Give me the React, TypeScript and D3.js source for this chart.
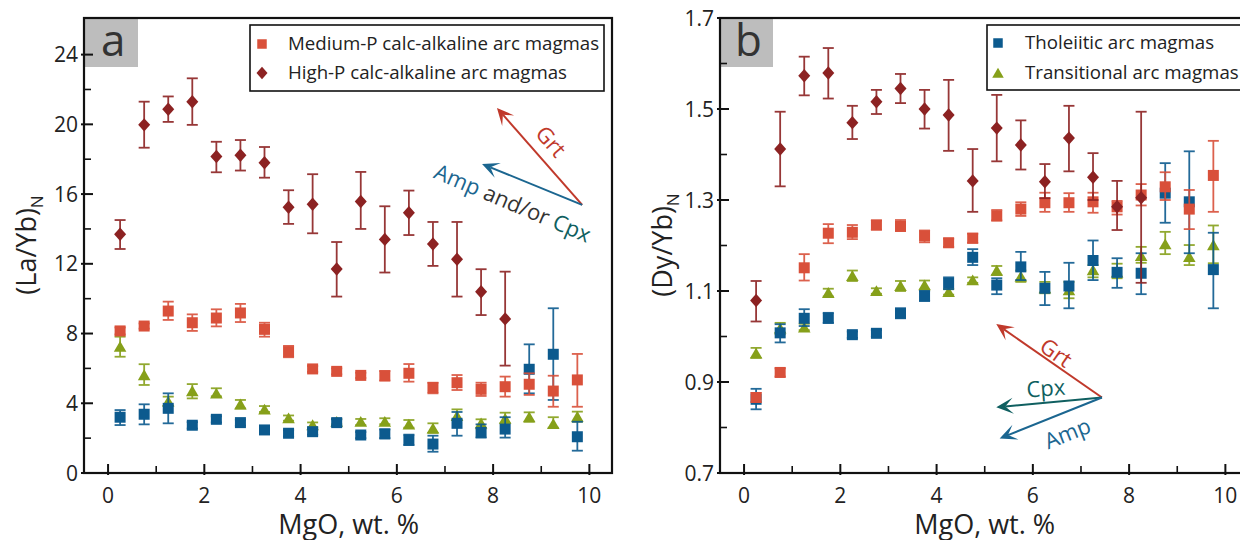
import React from "react";
import * as d3 from "d3";

// ---------- DATA ----------
const mgoBins = [0.25, 0.75, 1.25, 1.75, 2.25, 2.75, 3.25, 3.75, 4.25, 4.75, 5.25, 5.75, 6.25, 6.75, 7.25, 7.75, 8.25, 8.75, 9.25, 9.75];

// Panel a: (La/Yb)N
const aMedVal = [8.15, 8.43, 9.29, 8.62, 8.89, 9.18, 8.24, 6.96, 5.97, 5.83, 5.6, 5.58, 5.72, 4.9, 5.18, 4.8, 4.95, 5.09, 4.7, 5.34];
const aMedLo = [7.95, 8.28, 8.78, 8.15, 8.41, 8.66, 7.82, 6.64, 5.8, 5.66, 5.45, 5.3, 5.24, 4.57, 4.76, 4.42, 4.38, 4.48, 3.8, 3.8];
const aMedHi = [8.35, 8.58, 9.83, 9.1, 9.39, 9.7, 8.62, 7.29, 6.14, 6.0, 5.75, 5.85, 6.25, 5.18, 5.62, 5.18, 5.53, 5.72, 5.58, 6.83];

const aHighVal = [13.69, 19.97, 20.87, 21.3, 18.15, 18.23, 17.8, 15.24, 15.42, 11.7, 15.57, 13.4, 14.93, 13.14, 12.26, 10.4, 8.84];
const aHighLo = [12.85, 18.66, 20.14, 19.97, 17.25, 17.35, 16.94, 14.29, 13.75, 10.12, 14.0, 11.5, 13.65, 11.88, 10.12, 9.06, 6.16];
const aHighHi = [14.51, 21.3, 21.6, 22.64, 19.0, 19.1, 18.7, 16.22, 17.14, 13.25, 17.27, 15.3, 16.2, 14.4, 14.4, 11.69, 11.55];

const aTholVal = [3.2, 3.37, 3.71, 2.74, 3.08, 2.89, 2.47, 2.28, 2.37, 2.89, 2.18, 2.24, 1.89, 1.66, 2.85, 2.33, 2.52, 5.95, 6.81, 2.08];
const aTholLo = [2.75, 2.79, 2.85, 2.55, 2.9, 2.72, 2.3, 2.1, 2.2, 2.7, 2.0, 2.0, 1.6, 1.22, 2.14, 2.03, 2.03, 4.57, 4.19, 1.28];
const aTholHi = [3.61, 3.94, 4.57, 2.92, 3.25, 3.06, 2.64, 2.45, 2.55, 3.08, 2.35, 2.5, 2.2, 2.14, 3.5, 2.79, 3.2, 7.38, 9.45, 2.94];

const aTransVal = [7.25, 5.62, 4.1, 4.7, 4.57, 3.94, 3.65, 3.14, 2.75, 2.94, 2.94, 2.94, 2.79, 2.56, 3.27, 2.85, 3.12, 3.2, 2.81, 3.23];
const aTransLo = [6.67, 5.05, 3.85, 4.28, 4.4, 3.7, 3.5, 3.0, 2.62, 2.8, 2.75, 2.8, 2.6, 2.3, 3.04, 2.56, 2.85, 2.94, 2.6, 2.94];
const aTransHi = [7.82, 6.24, 4.38, 5.1, 4.86, 4.19, 3.84, 3.3, 2.9, 3.1, 3.1, 3.14, 3.04, 2.85, 3.65, 3.08, 3.46, 3.48, 3.2, 3.52];

// Panel b: (Dy/Yb)N
const bMedVal = [0.866, 0.921, 1.151, 1.227, 1.229, 1.245, 1.242, 1.221, 1.206, 1.216, 1.265, 1.28, 1.294, 1.294, 1.296, 1.285, 1.311, 1.329, 1.28, 1.354];
const bMedLo = [0.856, 0.912, 1.123, 1.205, 1.214, 1.235, 1.232, 1.207, 1.197, 1.206, 1.255, 1.265, 1.274, 1.274, 1.272, 1.268, 1.288, 1.3, 1.236, 1.274];
const bMedHi = [0.876, 0.93, 1.181, 1.247, 1.245, 1.255, 1.256, 1.233, 1.215, 1.226, 1.278, 1.295, 1.316, 1.315, 1.316, 1.298, 1.335, 1.361, 1.322, 1.43];

const bHighVal = [1.079, 1.412, 1.573, 1.579, 1.47, 1.516, 1.545, 1.5, 1.487, 1.342, 1.458, 1.421, 1.34, 1.436, 1.35, 1.285, 1.305];
const bHighLo = [1.033, 1.33, 1.53, 1.523, 1.434, 1.489, 1.513, 1.457, 1.408, 1.274, 1.385, 1.367, 1.304, 1.363, 1.3, 1.234, 1.118];
const bHighHi = [1.122, 1.494, 1.615, 1.634, 1.507, 1.542, 1.577, 1.542, 1.564, 1.412, 1.531, 1.475, 1.379, 1.507, 1.403, 1.342, 1.494];

const bTholVal = [0.862, 1.008, 1.04, 1.04, 1.004, 1.007, 1.051, 1.089, 1.117, 1.174, 1.113, 1.153, 1.106, 1.111, 1.167, 1.141, 1.139, 1.315, 1.296, 1.147];
const bTholLo = [0.84, 0.987, 1.023, 1.03, 0.997, 1.0, 1.04, 1.078, 1.104, 1.157, 1.093, 1.124, 1.069, 1.062, 1.124, 1.107, 1.093, 1.25, 1.183, 1.062];
const bTholHi = [0.885, 1.027, 1.06, 1.052, 1.011, 1.014, 1.062, 1.1, 1.13, 1.192, 1.128, 1.186, 1.142, 1.162, 1.211, 1.172, 1.183, 1.381, 1.407, 1.228];

const bTransVal = [0.963, 1.018, 1.02, 1.096, 1.133, 1.1, 1.111, 1.113, 1.098, 1.124, 1.145, 1.132, 1.106, 1.102, 1.146, 1.141, 1.177, 1.203, 1.175, 1.201];
const bTransLo = [0.953, 1.005, 1.014, 1.088, 1.122, 1.094, 1.1, 1.103, 1.092, 1.118, 1.135, 1.12, 1.095, 1.084, 1.13, 1.128, 1.162, 1.181, 1.157, 1.161];
const bTransHi = [0.975, 1.03, 1.028, 1.105, 1.145, 1.106, 1.122, 1.123, 1.104, 1.13, 1.155, 1.145, 1.12, 1.12, 1.157, 1.16, 1.197, 1.23, 1.201, 1.244];

const xTicks = [0, 2, 4, 6, 8, 10];
const xMinorTicks = [1, 3, 5, 7, 9];
const aYTicks = [0, 4, 8, 12, 16, 20, 24];
const aYMinor = [2, 6, 10, 14, 18, 22];
const bYTicks = [0.7, 0.9, 1.1, 1.3, 1.5, 1.7];
const bYMinor = [0.8, 1.0, 1.2, 1.4, 1.6];

const legendA = ["Medium-P calc-alkaline arc magmas", "High-P calc-alkaline arc magmas"];
const legendB = ["Tholeiitic arc magmas", "Transitional arc magmas"];

// ---------- STYLE ----------
const C_MED = "#d9503a";
const C_HIGH = "#8c2222";
const C_THOL = "#0c5a8e";
const C_TRANS = "#86a01a";
const C_GRT = "#c0392b";
const C_AMP = "#1b6690";
const C_CPX = "#0f5f60";
const FONT = "'Open Sans', 'Noto Sans', sans-serif";

type Shape = "square" | "diamond" | "triangle";

function markerPath(shape: Shape, cx: number, cy: number, s: number) {
  const h = s / 2;
  if (shape === "square") return `M${cx - h},${cy - h}h${s}v${s}h${-s}Z`;
  if (shape === "diamond") return `M${cx},${cy - h * 1.12}L${cx + h},${cy}L${cx},${cy + h * 1.12}L${cx - h},${cy}Z`;
  return `M${cx},${cy - h * 0.95}L${cx + h * 1.05},${cy + h * 0.85}L${cx - h * 1.05},${cy + h * 0.85}Z`;
}

function Series({ xs, val, lo, hi, x, y, color, shape, size }: any) {
  return (
    <g>
      {val.map((v: number, i: number) => {
        const px = x(xs[i]);
        const y0 = y(lo[i]);
        const y1 = y(hi[i]);
        const cw = 5.5;
        return (
          <g key={i}>
            <g stroke={color} strokeWidth={1.8} opacity={0.9}>
              <line x1={px} x2={px} y1={y0} y2={y1} />
              <line x1={px - cw} x2={px + cw} y1={y0} y2={y0} />
              <line x1={px - cw} x2={px + cw} y1={y1} y2={y1} />
            </g>
            <path d={markerPath(shape, px, y(v), size)} fill={color} />
          </g>
        );
      })}
    </g>
  );
}

function Arrow({ x1, y1, x2, y2, color }: any) {
  const dx = x2 - x1, dy = y2 - y1;
  const len = Math.hypot(dx, dy);
  const ux = dx / len, uy = dy / len;
  const nx = -uy, ny = ux;
  const L = 17, W = 8, notch = 9;
  const bx = x2 - ux * L, by = y2 - uy * L;
  const mx = x2 - ux * notch, my = y2 - uy * notch;
  const head = `M${x2},${y2}L${bx + nx * W},${by + ny * W}L${mx},${my}L${bx - nx * W},${by - ny * W}Z`;
  return (
    <g>
      <line x1={x1} y1={y1} x2={mx} y2={my} stroke={color} strokeWidth={2} />
      <path d={head} fill={color} />
    </g>
  );
}

function Axes({ x, y, yTicks, yMinor, yFmt, left, right, top, bottom }: any) {
  return (
    <g>
      {xTicks.map((t) => (
        <g key={"xt" + t}>
          <line x1={x(t)} x2={x(t)} y1={bottom + 2} y2={bottom - 9} stroke="#111" strokeWidth={2} />
          <text x={x(t)} y={503} textAnchor="middle" fontSize={21} fill="#222" fontFamily={FONT}>{t}</text>
        </g>
      ))}
      {xMinorTicks.map((t) => (
        <line key={"xm" + t} x1={x(t)} x2={x(t)} y1={bottom} y2={bottom - 7} stroke="#111" strokeWidth={1.6} />
      ))}
      {yTicks.map((t: number) => (
        <g key={"yt" + t}>
          <line x1={left - 3} x2={left + 9} y1={y(t)} y2={y(t)} stroke="#111" strokeWidth={2} />
          <text x={left - 6} y={y(t) + 7.5} textAnchor="end" fontSize={21} fill="#222" fontFamily={FONT}>{yFmt(t)}</text>
        </g>
      ))}
      {yMinor.map((t: number) => (
        <line key={"ym" + t} x1={left} x2={left + 7} y1={y(t)} y2={y(t)} stroke="#111" strokeWidth={1.6} />
      ))}
      <rect x={left} y={top} width={right - left} height={bottom - top} fill="none" stroke="#111" strokeWidth={2.2} />
    </g>
  );
}

function LegendMarker({ shape, cx, cy, color }: any) {
  const s = shape === "square" ? 9.5 : 11;
  return <path d={markerPath(shape, cx, cy, s)} fill={color} />;
}

export default function App() {
  const top = 18, bottom = 473;
  const aL = 84, aR = 612, bL = 720, bR = 1248;
  const xA = d3.scaleLinear().domain([-0.5, 10.47]).range([aL, aR]);
  const yA = d3.scaleLinear().domain([0, 26.1]).range([bottom, top]);
  const xB = d3.scaleLinear().domain([-0.5, 10.47]).range([bL, bR]);
  const yB = d3.scaleLinear().domain([0.7, 1.7]).range([bottom, top]);

  const xsHigh = mgoBins.slice(0, aHighVal.length);

  return (
    <svg width={1240} height={540} style={{ position: "absolute", left: 0, top: 0, background: "#fff" }} fontFamily={FONT}>
      <rect x={0} y={0} width={1240} height={540} fill="#fff" />

      {/* ---------------- Panel a ---------------- */}
      <g>
        <rect x={aL} y={top} width={54} height={49} fill="#bdbdbd" />
        <text x={101} y={56} fontSize={44} fill="#333">a</text>

        <Series xs={mgoBins} val={aTransVal} lo={aTransLo} hi={aTransHi} x={xA} y={yA} color={C_TRANS} shape="triangle" size={12} />
        <Series xs={mgoBins} val={aTholVal} lo={aTholLo} hi={aTholHi} x={xA} y={yA} color={C_THOL} shape="square" size={11} />
        <Series xs={mgoBins} val={aMedVal} lo={aMedLo} hi={aMedHi} x={xA} y={yA} color={C_MED} shape="square" size={11} />
        <Series xs={xsHigh} val={aHighVal} lo={aHighLo} hi={aHighHi} x={xA} y={yA} color={C_HIGH} shape="diamond" size={12} />

        <Arrow x1={xA(9.85)} y1={yA(15.38)} x2={xA(8.08)} y2={yA(20.94)} color={C_GRT} />
        <Arrow x1={xA(9.85)} y1={yA(15.38)} x2={xA(7.77)} y2={yA(17.73)} color={C_AMP} />
        <text transform={`translate(${xA(9.2)},${yA(19.02)}) rotate(48.8)`} textAnchor="middle" dy="0.35em" fontSize={22} fill={C_GRT}>Grt</text>
        <text transform={`translate(${xA(6.74)},${yA(16.95)}) rotate(23)`} fontSize={22} fill="#333">
          <tspan fill={C_AMP}>Amp</tspan>
          <tspan> and/or </tspan>
          <tspan fill={C_CPX}>Cpx</tspan>
        </text>

        <rect x={250} y={25} width={354} height={66} fill="#fff" stroke="#111" strokeWidth={1.6} />
        <LegendMarker shape="square" cx={262} cy={44} color={C_MED} />
        <LegendMarker shape="diamond" cx={262} cy={73} color={C_HIGH} />
        <text x={288} y={50} fontSize={18.7} fill="#222">{legendA[0]}</text>
        <text x={288} y={79} fontSize={18.7} fill="#222">{legendA[1]}</text>

        <Axes x={xA} y={yA} yTicks={aYTicks} yMinor={aYMinor} yFmt={(t: number) => String(t)} left={aL} right={aR} top={top} bottom={bottom} />

        <text transform={`translate(36,${245}) rotate(-90)`} textAnchor="middle" fontSize={27} fill="#222">
          (La/Yb)<tspan fontSize={17} dy={7}>N</tspan>
        </text>
        <text x={xA(5)} y={534} textAnchor="middle" fontSize={27} fill="#222">MgO, wt. %</text>
      </g>

      {/* ---------------- Panel b ---------------- */}
      <g>
        <rect x={bL} y={top} width={53} height={49} fill="#bdbdbd" />
        <text x={735} y={56} fontSize={44} fill="#333">b</text>

        <Series xs={mgoBins} val={bTransVal} lo={bTransLo} hi={bTransHi} x={xB} y={yB} color={C_TRANS} shape="triangle" size={12} />
        <Series xs={mgoBins} val={bTholVal} lo={bTholLo} hi={bTholHi} x={xB} y={yB} color={C_THOL} shape="square" size={11} />
        <Series xs={mgoBins} val={bMedVal} lo={bMedLo} hi={bMedHi} x={xB} y={yB} color={C_MED} shape="square" size={11} />
        <Series xs={xsHigh} val={bHighVal} lo={bHighLo} hi={bHighHi} x={xB} y={yB} color={C_HIGH} shape="diamond" size={12} />

        <Arrow x1={xB(7.435)} y1={yB(0.866)} x2={xB(5.24)} y2={yB(1.0275)} color={C_GRT} />
        <Arrow x1={xB(7.435)} y1={yB(0.866)} x2={xB(5.24)} y2={yB(0.8444)} color={C_CPX} />
        <Arrow x1={xB(7.435)} y1={yB(0.866)} x2={xB(5.31)} y2={yB(0.776)} color={C_AMP} />
        <text transform={`translate(${xB(6.48)},${yB(0.964)}) rotate(34.7)`} textAnchor="middle" dy="0.35em" fontSize={22} fill={C_GRT}>Grt</text>
        <text transform={`translate(${xB(6.27)},${yB(0.886)}) rotate(-4)`} textAnchor="middle" dy="0.35em" fontSize={22} fill={C_CPX}>Cpx</text>
        <text transform={`translate(${xB(6.72)},${yB(0.787)}) rotate(-21.8)`} textAnchor="middle" dy="0.35em" fontSize={22} fill={C_AMP}>Amp</text>

        <rect x={987} y={25} width={270} height={65} fill="#fff" stroke="#111" strokeWidth={1.6} />
        <LegendMarker shape="square" cx={998} cy={43} color={C_THOL} />
        <LegendMarker shape="triangle" cx={998} cy={73} color={C_TRANS} />
        <text x={1025} y={49} fontSize={18.7} fill="#222">{legendB[0]}</text>
        <text x={1025} y={79} fontSize={18.7} fill="#222">{legendB[1]}</text>

        <Axes x={xB} y={yB} yTicks={bYTicks} yMinor={bYMinor} yFmt={(t: number) => t.toFixed(1)} left={bL} right={bR} top={top} bottom={bottom} />

        <text transform={`translate(672,${245}) rotate(-90)`} textAnchor="middle" fontSize={27} fill="#222">
          (Dy/Yb)<tspan fontSize={17} dy={7}>N</tspan>
        </text>
        <text x={xB(5)} y={534} textAnchor="middle" fontSize={27} fill="#222">MgO, wt. %</text>
      </g>
    </svg>
  );
}
